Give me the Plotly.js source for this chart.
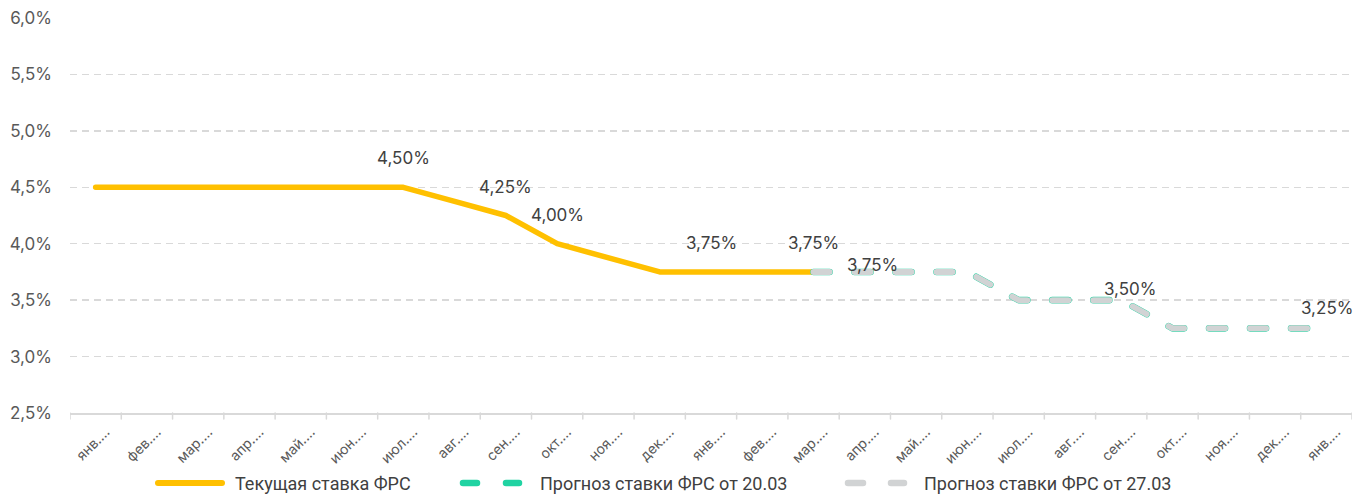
<!DOCTYPE html>
<html>
<head>
<meta charset="utf-8">
<script src="https://cdn.plot.ly/plotly-3.0.1.min.js"></script>
<style>
  html, body { margin: 0; padding: 0; background: #fff; }
  #chart { width: 1368px; height: 496px; }
  .js-line, .shapelayer path { stroke-linecap: round; stroke-linejoin: round; }
</style>
</head>
<body>
<div id="chart"></div>
<script>
// ---- data ----
const categories = ['янв.…','фев.…','мар.…','апр.…','май.…','июн.…','июл.…','авг.…','сен.…','окт.…','ноя.…','дек.…',
                    'янв.…','фев.…','мар.…','апр.…','май.…','июн.…','июл.…','авг.…','сен.…','окт.…','ноя.…','дек.…','янв.…'];
const currentRate = [4.5,4.5,4.5,4.5,4.5,4.5,4.5,4.375,4.25,4.0,3.875,3.75,3.75,3.75,3.75,
                     null,null,null,null,null,null,null,null,null,null];
const forecast2003 = [null,null,null,null,null,null,null,null,null,null,null,null,null,null,
                      3.75,3.75,3.75,3.75,3.5,3.5,3.5,3.25,3.25,3.25,3.25];
const forecast2703 = [null,null,null,null,null,null,null,null,null,null,null,null,null,null,
                      3.75,3.75,3.75,3.75,3.5,3.5,3.5,3.25,3.25,3.25,3.25];
const currentLabelIdx = [6,8,9,12,14];
const forecastLabelIdx = [15,20,24];
const seriesNames = ['Текущая ставка ФРС','Прогноз ставки ФРС от 20.03','Прогноз ставки ФРС от 27.03'];

// ---- styles ----
const C_YELLOW = '#FFC000', C_GREEN = '#20D3A2', C_GRAY = '#D1D3D4';
const TXT = '#404040', AX = '#595959', GRID = '#D9D9D9';
const FONT = 'Inter, "Noto Sans", sans-serif';
const LFONT = 'Roboto, sans-serif';
const fcLabelShift = [[8,7],[9,11],[1,20]]; // label offsets (px) for forecast labels

const xIdx = categories.map((_, i) => i);
const fmt = v => v.toFixed(2).replace('.', ',') + '%';

const traces = [
  {x: xIdx, y: currentRate, name: seriesNames[0], mode: 'lines', line: {color: C_YELLOW, width: 5.5}, connectgaps: false, hoverinfo: 'skip'},
  {x: xIdx, y: forecast2003, name: seriesNames[1], mode: 'lines', line: {color: C_GREEN, width: 6.6, dash: '16px,25px'}, hoverinfo: 'skip'},
  {x: xIdx, y: forecast2703, name: seriesNames[2], mode: 'lines', line: {color: C_GRAY, width: 6, dash: '16px,25px'}, hoverinfo: 'skip'}
];

const annotations = [];
currentLabelIdx.forEach(i => annotations.push({
  x: i, y: currentRate[i], xref: 'x', yref: 'y', text: fmt(currentRate[i]), showarrow: false,
  yshift: 29, xanchor: 'center', yanchor: 'middle', font: {family: FONT, size: 17, color: TXT}
}));
forecastLabelIdx.forEach((i, k) => annotations.push({
  x: i, y: forecast2703[i], xref: 'x', yref: 'y', text: fmt(forecast2703[i]), showarrow: false,
  xshift: fcLabelShift[k][0], yshift: fcLabelShift[k][1], xanchor: 'center', yanchor: 'middle',
  font: {family: FONT, size: 17, color: TXT}
}));

// custom legend (pixel -> paper conversion)
const PL = 70, PW = 1282, PB = 413, PH = 395;
const px = v => (v - PL) / PW, py = v => (PB - v) / PH;
const legY = py(483);
const shapes = [];
function seg(x0, x1, color, w) {
  shapes.push({type: 'line', xref: 'paper', yref: 'paper', x0: px(x0), x1: px(x1), y0: legY, y1: legY,
               line: {color: color, width: w}});
}
seg(158, 222, C_YELLOW, 6);
seg(463, 477, C_GREEN, 6.5); seg(506, 519, C_GREEN, 6.5);
seg(848, 863, C_GRAY, 6.5); seg(891, 904, C_GRAY, 6.5);
[[233, 0], [538, 1], [922, 2]].forEach(([x, k]) => annotations.push({
  xref: 'paper', yref: 'paper', x: px(x), y: legY, xanchor: 'left', yanchor: 'middle',
  text: seriesNames[k], showarrow: false, font: {family: LFONT, size: 18, color: TXT}
}));
// category boundary tick marks on the x axis
for (let i = 0; i <= categories.length; i++) {
  shapes.push({type: 'line', xref: 'x', yref: 'paper', x0: i - 0.5, x1: i - 0.5, y0: 0, y1: -6 / PH,
               line: {color: GRID, width: 1.5}});
}

const layout = {
  width: 1368, height: 496,
  margin: {l: 70, r: 16, t: 18, b: 83, pad: 0},
  paper_bgcolor: '#fff', plot_bgcolor: '#fff',
  separators: ', ',
  showlegend: false,
  xaxis: {
    range: [-0.5, categories.length - 0.5], tickmode: 'array', tickvals: xIdx, ticktext: categories,
    tickangle: 0, tickfont: {family: FONT, size: 14, color: AX},
    showline: true, linecolor: GRID, linewidth: 1.5, showgrid: false, zeroline: false
  },
  yaxis: {
    range: [2.5, 6.0], tickmode: 'linear', tick0: 2.5, dtick: 0.5, tickformat: '.1f', ticksuffix: '%',
    tickfont: {family: FONT, size: 17, color: AX}, ticks: '', ticklabelstandoff: 17,
    showgrid: true, gridcolor: GRID, gridwidth: 1.4, griddash: '7px,5px', zeroline: false, showline: false
  },
  annotations: annotations,
  shapes: shapes
};

// turn the category labels by -45° (end of the text just right of each category centre)
function rotateXLabels(gd) {
  const fl = gd._fullLayout, xa = fl.xaxis;
  const axisY = fl._size.t + fl._size.h;
  const k = Math.SQRT1_2;
  gd.querySelectorAll('.xtick text').forEach((el, i) => {
    const cx = xa._offset + xa.c2p(xIdx[i]);
    el.setAttribute('x', 0);
    el.setAttribute('y', 0);
    el.setAttribute('text-anchor', 'end');
    el.style.textAnchor = 'end';
    el.querySelectorAll('tspan').forEach(t => { t.setAttribute('x', 0); t.removeAttribute('dy'); });
    el.setAttribute('transform', `matrix(${k} ${-k} ${k} ${k} ${cx + 15} ${axisY + 20})`);
  });
}

Plotly.newPlot('chart', traces, layout, {staticPlot: true, displayModeBar: false})
  .then(gd => rotateXLabels(gd));
</script>
</body>
</html>
